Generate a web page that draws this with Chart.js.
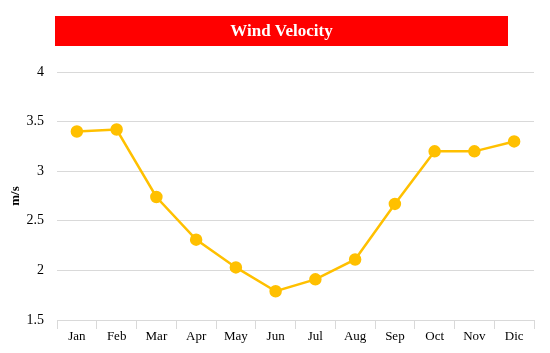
<!DOCTYPE html>
<html>
<head>
<meta charset="utf-8">
<script src="https://cdn.jsdelivr.net/npm/chart.js@4/dist/chart.umd.min.js"></script>
<style>
  html, body { margin: 0; padding: 0; background: #fff; }
  #wrap { width: 550px; height: 353px; position: relative; }
</style>
</head>
<body>
<div id="wrap"><canvas id="windChart"></canvas></div>
<script>
// Monthly mean wind velocity (m/s)
const months = ["Jan", "Feb", "Mar", "Apr", "May", "Jun", "Jul", "Aug", "Sep", "Oct", "Nov", "Dic"];
const velocity = [3.40, 3.42, 2.74, 2.31, 2.03, 1.79, 1.91, 2.11, 2.67, 3.20, 3.20, 3.30];
const chartTitle = "Wind Velocity";
const yLabel = "m/s";

const serif = "'Liberation Serif', 'DejaVu Serif', serif";

// red banner behind the title
const titleBanner = {
    id: "titleBanner",
    afterDraw(chart) {
        const ctx = chart.ctx;
        ctx.save();
        ctx.fillStyle = "#ff0000";
        ctx.fillRect(55, 16, 453, 30);
        ctx.fillStyle = "#ffffff";
        ctx.font = "bold 17px " + serif;
        ctx.textAlign = "center";
        ctx.textBaseline = "middle";
        ctx.fillText(chartTitle, 281.5, 31.5);
        ctx.restore();
    }
};

new Chart("windChart", {
    type: "line",
    data: {
        labels: months,
        datasets: [{
            data: velocity,
            borderColor: "#ffc000",
            backgroundColor: "#ffc000",
            borderWidth: 2.5,
            pointRadius: 5,
            pointHoverRadius: 5,
            tension: 0
        }]
    },
    options: {
        responsive: true,
        maintainAspectRatio: false,
        animation: false,
        layout: { padding: { top: 72, right: 16, left: 0, bottom: 0 } },
        plugins: {
            legend: { display: false },
            tooltip: { enabled: false }
        },
        scales: {
            x: {
                offset: true,
                afterFit(scale) { scale.height = 33; },
                grid: {
                    offset: true,
                    drawOnChartArea: false,
                    tickLength: 9,
                    color: "#d9d9d9",
                    lineWidth: 1
                },
                border: { color: "#d9d9d9", width: 1 },
                ticks: {
                    color: "#000",
                    padding: 0,
                    font: { family: serif, size: 13 }
                }
            },
            y: {
                min: 1.5,
                max: 4,
                afterFit(scale) { scale.width = 57; },
                grid: { color: "#d9d9d9", lineWidth: 1, drawTicks: false },
                border: { display: false },
                ticks: {
                    stepSize: 0.5,
                    padding: 13,
                    color: "#000",
                    font: { family: serif, size: 14 },
                    callback: v => String(v)
                },
                title: {
                    display: true,
                    text: yLabel,
                    color: "#000",
                    padding: { top: 8, bottom: 0 },
                    font: { family: serif, size: 13, weight: "bold" }
                }
            }
        }
    },
    plugins: [titleBanner]
});
</script>
</body>
</html>
